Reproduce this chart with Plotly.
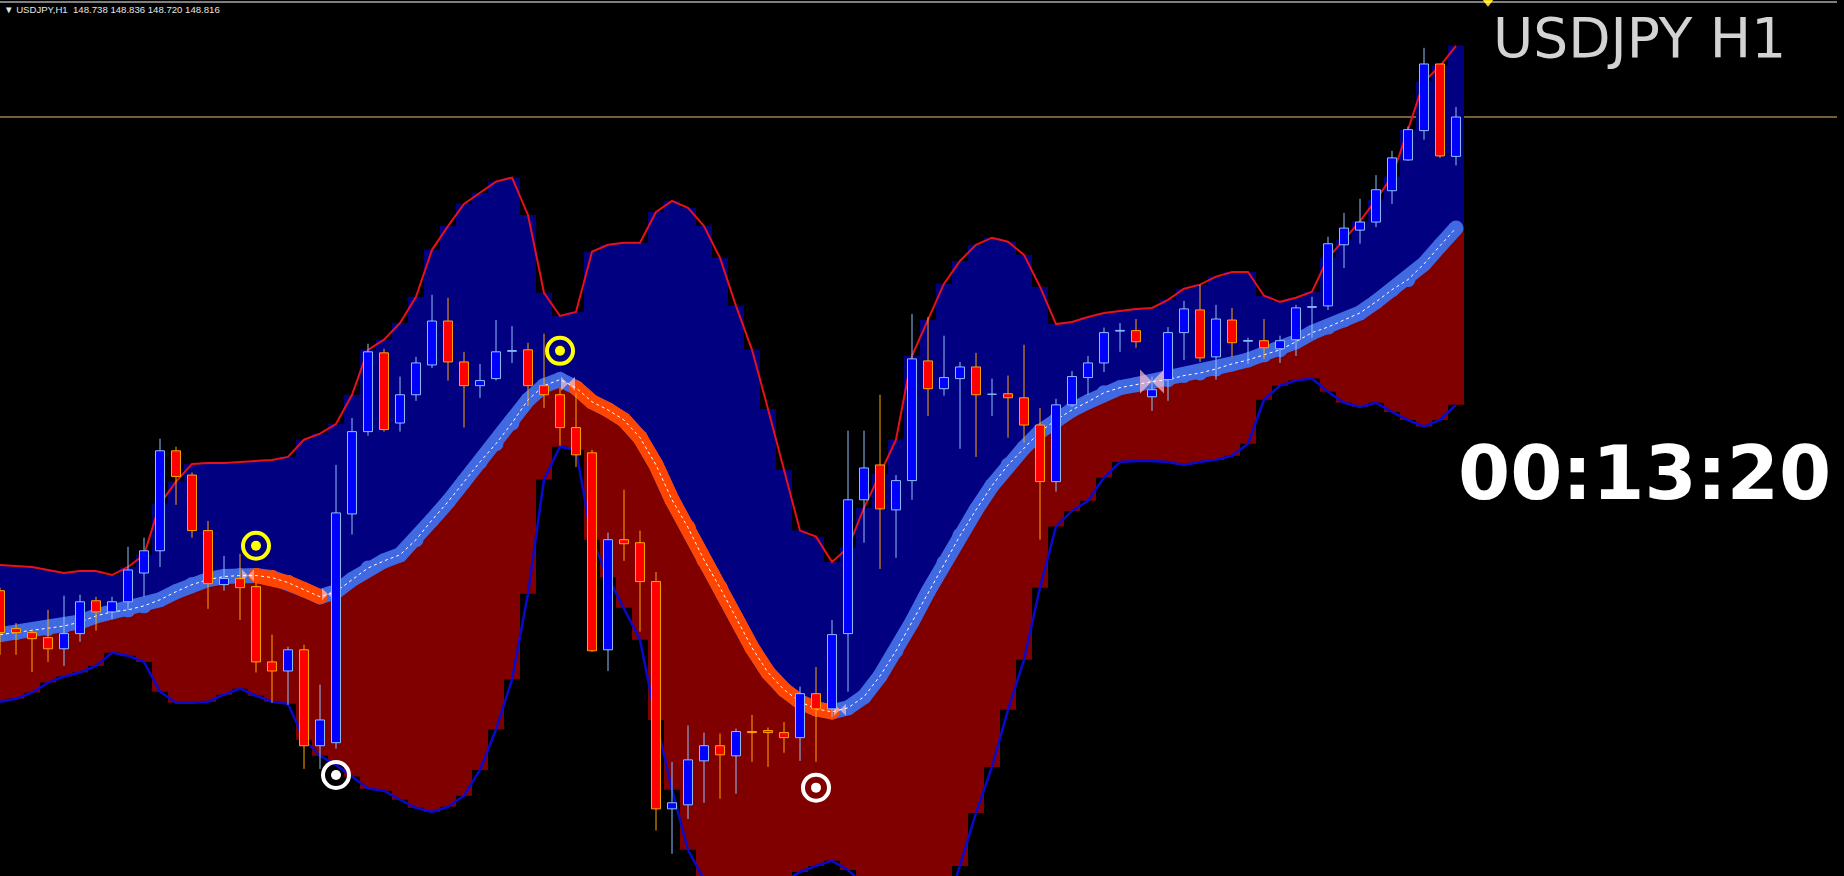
import numpy as np
import plotly.graph_objects as go

# MT4 style USDJPY H1 chart: bands filled as histogram columns, trend MA, candles
symbol = "USDJPY"
timeframe = "H1"
countdown = "00:13:20"

opens = [147.878, 147.803, 147.795, 147.785, 147.763, 147.793, 147.858, 147.836, 147.856, 147.913,
         147.957, 148.155, 148.107, 147.997, 147.890, 147.902, 147.886, 147.737, 147.719, 147.761,
         147.571, 147.577, 148.030, 148.193, 148.349, 148.210, 148.266, 148.325, 148.412, 148.331,
         148.284, 148.298, 148.352, 148.355, 148.284, 148.266, 148.201, 148.151, 147.761, 147.979,
         147.973, 147.896, 147.446, 147.454, 147.541, 147.571, 147.551, 147.599, 147.601, 147.597,
         147.587, 147.674, 147.644, 147.793, 148.058, 148.127, 148.038, 148.096, 148.333, 148.278,
         148.298, 148.321, 148.267, 148.268, 148.260, 148.206, 148.094, 148.246, 148.300, 148.329,
         148.392, 148.393, 148.262, 148.296, 148.389, 148.434, 148.341, 148.414, 148.372, 148.373,
         148.357, 148.375, 148.439, 148.442, 148.563, 148.592, 148.608, 148.670, 148.731, 148.789,
         148.921, 148.738]
highs = [147.884, 147.814, 147.801, 147.840, 147.868, 147.870, 147.866, 147.866, 147.965, 147.983,
         148.179, 148.163, 148.112, 148.016, 147.947, 147.951, 147.894, 147.791, 147.767, 147.771,
         147.692, 148.127, 148.220, 148.367, 148.357, 148.302, 148.341, 148.464, 148.458, 148.351,
         148.327, 148.414, 148.402, 148.369, 148.387, 148.280, 148.270, 148.157, 147.993, 148.078,
         147.997, 147.915, 147.539, 147.611, 147.597, 147.595, 147.605, 147.632, 147.607, 147.618,
         147.688, 147.727, 147.820, 148.195, 148.195, 148.266, 148.107, 148.426, 148.420, 148.383,
         148.331, 148.349, 148.298, 148.304, 148.365, 148.240, 148.258, 148.313, 148.343, 148.399,
         148.408, 148.416, 148.302, 148.400, 148.452, 148.484, 148.444, 148.438, 148.379, 148.416,
         148.383, 148.444, 148.460, 148.579, 148.626, 148.654, 148.701, 148.749, 148.797, 148.953,
         148.921, 148.836]
lows = [147.751, 147.751, 147.717, 147.737, 147.729, 147.777, 147.799, 147.822, 147.840, 147.866,
        147.925, 148.048, 147.983, 147.842, 147.878, 147.820, 147.716, 147.656, 147.652, 147.525,
        147.525, 147.565, 147.989, 148.185, 148.193, 148.193, 148.254, 148.319, 148.294, 148.201,
        148.260, 148.294, 148.329, 148.244, 148.240, 148.165, 148.123, 147.757, 147.719, 147.937,
        147.797, 147.403, 147.357, 147.426, 147.458, 147.466, 147.476, 147.539, 147.529, 147.557,
        147.541, 147.539, 147.628, 147.678, 147.973, 147.921, 147.943, 148.058, 148.224, 148.264,
        148.159, 148.143, 148.224, 148.181, 148.171, 147.979, 148.074, 148.242, 148.266, 148.311,
        148.351, 148.359, 148.234, 148.254, 148.335, 148.331, 148.296, 148.341, 148.327, 148.337,
        148.329, 148.343, 148.379, 148.434, 148.517, 148.565, 148.598, 148.644, 148.729, 148.771,
        148.735, 148.720]
closes = [147.795, 147.795, 147.783, 147.763, 147.793, 147.856, 147.836, 147.856, 147.919, 147.957,
          148.155, 148.104, 147.997, 147.892, 147.902, 147.884, 147.737, 147.719, 147.761, 147.571,
          147.622, 148.032, 148.193, 148.351, 148.197, 148.266, 148.329, 148.412, 148.331, 148.284,
          148.294, 148.351, 148.353, 148.284, 148.266, 148.201, 148.147, 147.759, 147.979, 147.971,
          147.896, 147.446, 147.458, 147.543, 147.571, 147.553, 147.599, 147.597, 147.597, 147.587,
          147.674, 147.644, 147.791, 148.058, 148.121, 148.040, 148.096, 148.337, 148.278, 148.300,
          148.321, 148.266, 148.268, 148.260, 148.206, 148.094, 148.246, 148.302, 148.329, 148.389,
          148.393, 148.371, 148.276, 148.389, 148.436, 148.339, 148.416, 148.369, 148.373, 148.359,
          148.373, 148.438, 148.440, 148.565, 148.596, 148.608, 148.672, 148.735, 148.791, 148.921,
          148.739, 148.816]

upper_band = [147.929, 147.927, 147.925, 147.919, 147.913, 147.917, 147.917, 147.909, 147.925, 147.949,
              148.050, 148.094, 148.129, 148.131, 148.131, 148.133, 148.135, 148.137, 148.143, 148.177,
              148.189, 148.208, 148.266, 148.355, 148.375, 148.408, 148.460, 148.553, 148.600, 148.644,
              148.666, 148.688, 148.696, 148.622, 148.468, 148.422, 148.430, 148.549, 148.563, 148.567,
              148.567, 148.628, 148.650, 148.636, 148.600, 148.537, 148.442, 148.355, 148.238, 148.117,
              147.997, 147.985, 147.935, 147.963, 148.042, 148.109, 148.177, 148.343, 148.414, 148.486,
              148.531, 148.563, 148.577, 148.569, 148.543, 148.480, 148.406, 148.410, 148.420, 148.428,
              148.432, 148.436, 148.438, 148.454, 148.476, 148.484, 148.500, 148.509, 148.509, 148.462,
              148.450, 148.458, 148.470, 148.537, 148.573, 148.610, 148.652, 148.698, 148.791, 148.886,
              148.917, 148.957]
middle_line = [147.791, 147.795, 147.799, 147.803, 147.808, 147.816, 147.828, 147.836, 147.840, 147.848,
               147.860, 147.876, 147.890, 147.900, 147.906, 147.908, 147.908, 147.904, 147.894, 147.880,
               147.866, 147.876, 147.900, 147.923, 147.937, 147.949, 147.979, 148.018, 148.054, 148.094,
               148.133, 148.169, 148.210, 148.256, 148.284, 148.296, 148.280, 148.252, 148.236, 148.216,
               148.181, 148.127, 148.058, 148.003, 147.939, 147.884, 147.824, 147.765, 147.716, 147.682,
               147.658, 147.644, 147.638, 147.646, 147.668, 147.709, 147.759, 147.816, 147.876, 147.933,
               147.987, 148.038, 148.086, 148.127, 148.161, 148.193, 148.216, 148.236, 148.252, 148.270,
               148.280, 148.286, 148.292, 148.296, 148.304, 148.309, 148.317, 148.327, 148.335, 148.345,
               148.355, 148.371, 148.389, 148.400, 148.414, 148.428, 148.450, 148.474, 148.494, 148.525,
               148.561, 148.596]
lower_band = [147.658, 147.664, 147.676, 147.696, 147.708, 147.716, 147.729, 147.755, 147.749, 147.737,
              147.678, 147.656, 147.656, 147.658, 147.672, 147.684, 147.670, 147.658, 147.654, 147.583,
              147.551, 147.533, 147.510, 147.486, 147.482, 147.464, 147.448, 147.440, 147.450, 147.472,
              147.523, 147.603, 147.702, 147.872, 148.098, 148.163, 148.157, 147.979, 147.904, 147.844,
              147.781, 147.622, 147.484, 147.365, 147.306, 147.276, 147.266, 147.270, 147.282, 147.302,
              147.321, 147.333, 147.343, 147.325, 147.296, 147.276, 147.256, 147.246, 147.236, 147.230,
              147.333, 147.438, 147.529, 147.642, 147.741, 147.884, 148.005, 148.036, 148.056, 148.102,
              148.133, 148.135, 148.135, 148.133, 148.127, 148.133, 148.137, 148.145, 148.169, 148.256,
              148.284, 148.294, 148.298, 148.272, 148.250, 148.242, 148.250, 148.232, 148.216, 148.203,
              148.216, 148.246]

# bars where the middle line is in a down trend (orange)
down_runs = [(16, 20), (36, 52)]
flip_marks = [15.5, 20.5, 35.5, 52.5, 72]
sell_signal_bars = [16, 35]
sell_signal_prices = [147.967, 148.353]
buy_signal_bars = [21, 51]
buy_signal_prices = [147.513, 147.488]

o = np.array(opens)
h = np.array(highs)
l = np.array(lows)
c = np.array(closes)
up = np.array(upper_band)
mid = np.array(middle_line)
lo = np.array(lower_band)
idx = np.arange(len(o))

fig = go.Figure()

# histogram fills between the bands
fig.add_trace(go.Bar(x=idx, y=up - mid, base=mid, width=1.0,
                     marker=dict(color="#000080", line=dict(width=0)), hoverinfo="skip"))
fig.add_trace(go.Bar(x=idx, y=mid - lo, base=lo, width=1.0,
                     marker=dict(color="#800000", line=dict(width=0)), hoverinfo="skip"))

# band lines
fig.add_trace(go.Scatter(x=idx, y=up, mode="lines", line=dict(color="#E8101C", width=2)))
fig.add_trace(go.Scatter(x=idx, y=lo, mode="lines", line=dict(color="#0A0ACD", width=2.5)))

# thick middle line, blue for up trend and orange for down trend
fig.add_trace(go.Scatter(x=idx, y=mid, mode="lines+markers",
                         line=dict(color="#4169E1", width=15),
                         marker=dict(color="#4169E1", size=15, line=dict(width=0))))
for a, b in down_runs:
    fig.add_trace(go.Scatter(x=idx[a:b + 1], y=mid[a:b + 1], mode="lines+markers",
                             line=dict(color="#FF4500", width=15),
                             marker=dict(color="#FF4500", size=15, line=dict(width=0))))

flip_y = np.interp(flip_marks, idx, mid)
fig.add_trace(go.Scatter(x=flip_marks, y=flip_y, mode="markers",
                         marker=dict(symbol="bowtie", color="#FFC0CB",
                                     size=[12, 12, 14, 12, 24], line=dict(width=0))))

fig.add_trace(go.Scatter(x=idx, y=mid, mode="lines",
                         line=dict(color="#FFFFFF", width=1, dash="3px,3px")))

# candles
bull = c >= o
half = 0.28


def wick_path(mask):
    xs, ys = [], []
    for i in np.where(mask)[0]:
        xs += [i, i, None]
        ys += [l[i], h[i], None]
    return xs, ys


def body_path(mask):
    xs, ys = [], []
    for i in np.where(mask)[0]:
        b0 = min(o[i], c[i])
        b1 = max(o[i], c[i])
        if b1 - b0 < 0.0015:
            b1 = b0 + 0.0015
        xs += [i - half, i + half, i + half, i - half, i - half, None]
        ys += [b0, b0, b1, b1, b0, None]
    return xs, ys


for mask, fill, edge in [(bull, "#0000FF", "#8FBFFF"), (~bull, "#FF0000", "#FFA500")]:
    wx, wy = wick_path(mask)
    fig.add_trace(go.Scatter(x=wx, y=wy, mode="lines", line=dict(color=edge, width=1)))
    bx, by = body_path(mask)
    fig.add_trace(go.Scatter(x=bx, y=by, mode="lines", fill="toself", fillcolor=fill,
                             line=dict(color=edge, width=1)))

# signal circles
for xs, ys, col in [(sell_signal_bars, sell_signal_prices, "#FFFF00"),
                    (buy_signal_bars, buy_signal_prices, "#FFFFFF")]:
    fig.add_trace(go.Scatter(x=xs, y=ys, mode="markers",
                             marker=dict(symbol="circle-open", size=26, color=col,
                                         line=dict(color=col, width=4))))
    fig.add_trace(go.Scatter(x=xs, y=ys, mode="markers",
                             marker=dict(symbol="circle", size=10, color=col, line=dict(width=0))))

# chart shift marker at the top
fig.add_trace(go.Scatter(x=[93], y=[149.043], mode="markers", cliponaxis=False,
                         marker=dict(symbol="triangle-down", size=9, color="#FFD700", line=dict(width=0))))

chart_right = 1837 / 1844

fig.add_shape(type="line", xref="paper", yref="y", x0=0, x1=chart_right,
              y0=closes[-1], y1=closes[-1], line=dict(color="#E8C070", width=1), layer="below")
fig.add_shape(type="line", xref="paper", yref="paper", x0=0, x1=chart_right,
              y0=1 - 2 / 876, y1=1 - 2 / 876, line=dict(color="#FFFFFF", width=1))

header = "\u25bc {},{}\u00a0\u00a0{:.3f} {:.3f} {:.3f} {:.3f}".format(
    symbol, timeframe, opens[-1], highs[-1], lows[-1], closes[-1])
fig.add_annotation(text=header, xref="paper", yref="paper", x=0.001, y=1 - 10 / 876,
                   xanchor="left", yanchor="middle", showarrow=False,
                   font=dict(family="Liberation Sans", size=9.6, color="#E6E6E6"))
fig.add_annotation(text=f"{symbol} {timeframe}", xref="paper", yref="paper",
                   x=1639 / 1844, y=1 - 38 / 876, xanchor="center", yanchor="middle",
                   showarrow=False, font=dict(family="DejaVu Sans", size=55, color="#D3D3D3"))
fig.add_annotation(text=countdown, xref="paper", yref="paper",
                   x=1644 / 1844, y=1 - 473 / 876, xanchor="center", yanchor="middle",
                   showarrow=False,
                   font=dict(family="DejaVu Sans", size=75, color="#FFFFFF", weight="bold"))

fig.update_layout(
    width=1844,
    height=876,
    margin=dict(l=0, r=0, t=0, b=0),
    paper_bgcolor="#000000",
    plot_bgcolor="#000000",
    barmode="overlay",
    showlegend=False,
    hovermode=False,
    xaxis=dict(range=[0, 1844 / 16], visible=False),
    yaxis=dict(range=[147.313, 149.0477], visible=False),
)

fig.write_html("out.html", config={"displayModeBar": False},
               post_script="document.body.style.margin='0';document.body.style.overflow='hidden';")
